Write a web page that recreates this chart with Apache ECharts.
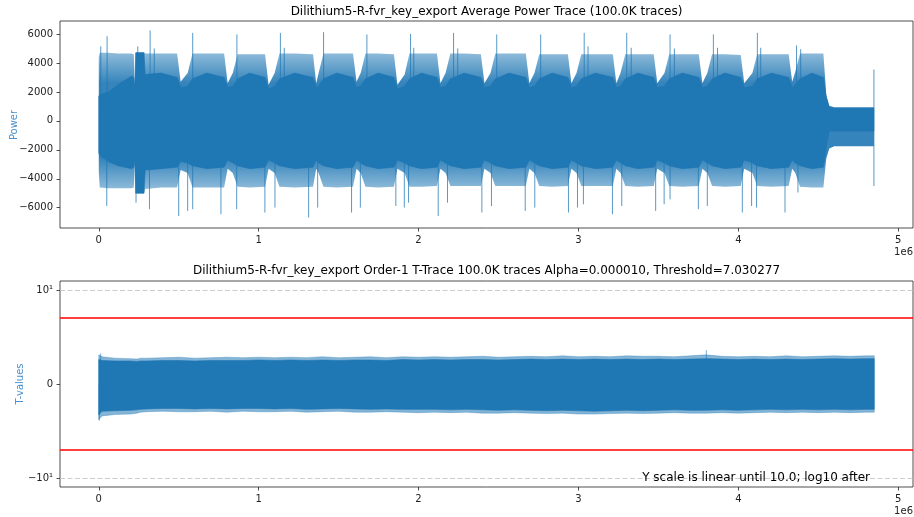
<!DOCTYPE html>
<html>
<head>
<meta charset="utf-8">
<script src="https://cdn.jsdelivr.net/npm/echarts@6/dist/echarts.min.js"></script>
<style>
html,body{margin:0;padding:0;background:#fff;}
#chart{width:914px;height:517px;}
</style>
</head>
<body>
<div id="chart"></div>
<script>
// ---------- DATA (x in units of 1e6 samples) ----------
const xTicks = [0, 1, 2, 3, 4, 5];
const powerTicks = [-6000, -4000, -2000, 0, 2000, 4000, 6000];
const tTicks = [-10, 0, 10];
const threshold = 7.030277;
const linThresh = 10;

// Average power trace envelope
const traceX = [0.000,0.006,0.060,0.120,0.205,0.219,0.225,
  0.231,0.283,0.290,0.390,0.490,0.512,
  0.556,0.586,0.675,0.784,0.806,
  0.838,0.868,0.944,1.040,1.062,
  1.100,1.130,1.225,1.340,1.360,
  1.375,1.405,1.488,1.590,1.612,
  1.638,1.668,1.747,1.846,1.868,
  1.913,1.943,2.019,2.115,2.137,
  2.169,2.199,2.285,2.390,2.412,
  2.450,2.480,2.566,2.671,2.693,
  2.725,2.755,2.835,2.934,2.956,
  2.988,3.018,3.106,3.215,3.237,
  3.263,3.293,3.372,3.471,3.493,
  3.538,3.568,3.650,3.753,3.775,
  3.806,3.836,3.916,4.015,4.037,
  4.088,4.118,4.206,4.315,4.337,
  4.356,4.386,4.460,4.532,
  4.550,4.569,4.600,4.848];
const outerHi = [4400,4700,4700,4650,4650,4600,2400,
  4750,4750,4650,4650,4650,2700,
  3300,4650,4650,4650,2600,
  3300,4600,4600,4600,2500,
  3300,4650,4650,4600,2600,
  3300,4650,4650,4650,2700,
  3300,4650,4650,4600,2500,
  3200,4650,4650,4650,2600,
  3300,4650,4650,4600,2600,
  3300,4650,4650,4650,2600,
  3300,4600,4600,4600,2600,
  3300,4600,4600,4600,2600,
  3300,4600,4600,4600,2600,
  3300,4600,4600,4600,2600,
  3300,4600,4600,4550,2600,
  3300,4600,4600,4600,2700,
  3400,4650,4650,4650,
  1800,1050,950,950];
const coreHi = [1700,1800,2000,2500,3100,3000,2000,
  4700,4700,3200,3300,3000,2300,
  2400,2900,3300,3000,2300,
  2400,2900,3300,3000,2200,
  2400,2900,3300,3000,2300,
  2400,2900,3300,3000,2300,
  2400,2900,3300,3000,2200,
  2400,2900,3300,3000,2300,
  2400,2900,3300,3000,2300,
  2400,2900,3300,3000,2300,
  2400,2900,3300,3000,2300,
  2400,2900,3300,3000,2300,
  2400,2900,3300,3000,2300,
  2400,2900,3300,3000,2300,
  2400,2900,3300,3000,2300,
  2400,2900,3300,3000,2300,
  2500,2900,3300,3000,
  1600,900,860,860];
const coreLo = [-2200,-2400,-2800,-3100,-3300,-3200,-2400,
  -5000,-5000,-3400,-3300,-3200,-2800,
  -2900,-3100,-3300,-3200,-2700,
  -2900,-3100,-3300,-3200,-2700,
  -2900,-3100,-3300,-3200,-2700,
  -2900,-3100,-3300,-3200,-2700,
  -2900,-3100,-3300,-3200,-2700,
  -2900,-3100,-3300,-3200,-2700,
  -2900,-3100,-3300,-3200,-2700,
  -2900,-3100,-3300,-3200,-2700,
  -2900,-3100,-3300,-3200,-2700,
  -2900,-3100,-3300,-3200,-2700,
  -2900,-3100,-3300,-3200,-2700,
  -2900,-3100,-3300,-3200,-2700,
  -2900,-3100,-3300,-3200,-2700,
  -2900,-3100,-3300,-3200,-2700,
  -2900,-3100,-3300,-3200,
  -1800,-700,-700,-700];
const outerLo = [-3500,-4600,-4650,-4650,-4650,-4600,-3000,
  -5000,-5000,-4700,-4600,-4600,-3400,
  -3600,-4600,-4600,-4600,-3300,
  -3600,-4550,-4600,-4550,-3300,
  -3600,-4550,-4600,-4550,-3300,
  -3600,-4550,-4600,-4550,-3300,
  -3600,-4550,-4600,-4550,-3300,
  -3600,-4550,-4550,-4500,-3300,
  -3600,-4500,-4500,-4500,-3300,
  -3600,-4500,-4500,-4500,-3300,
  -3600,-4500,-4550,-4500,-3300,
  -3600,-4500,-4500,-4500,-3300,
  -3600,-4500,-4550,-4500,-3300,
  -3600,-4500,-4550,-4500,-3300,
  -3600,-4500,-4550,-4500,-3300,
  -3600,-4500,-4550,-4500,-3300,
  -3600,-4550,-4600,-4600,
  -2600,-1900,-1750,-1750];

// Tall isolated spikes of the power trace
const spikeX = [0.0125,0.052,0.244,0.321,0.347,0.5875,0.864,1.136,1.16,1.406,1.677,1.95,1.97,2.219,2.245,2.489,2.764,3.036,3.06,3.302,3.33,3.573,3.60,3.844,3.87,4.119,4.14,4.364,4.39,4.848,
  0.05,0.233,0.317,0.5,0.556,0.5875,0.764,0.8625,1.039,1.102,1.3125,1.369,1.581,1.636,1.858,1.911,1.9375,2.123,2.181,2.396,2.456,2.667,2.727,2.9375,2.994,3.031,3.2125,3.271,3.483,3.536,3.573,3.75,3.806,4.025,4.083,4.114,4.292,4.373,4.848];
const spikeY = [5150,5850,5150,6250,5000,6080,5970,6080,5050,6130,5970,6000,5050,6080,5000,5970,5970,6080,5150,6080,5050,5970,5000,5970,5050,6080,5050,5210,4950,3550,
  -5880,-5650,-6100,-6570,-6220,-6100,-6450,-6100,-6330,-5990,-6680,-5990,-6330,-5990,-5880,-5990,-5650,-6570,-5650,-6330,-5880,-6220,-5990,-6330,-5990,-5760,-6450,-5880,-6220,-5760,-5420,-6100,-5880,-6330,-5880,-5990,-6330,-4950,-4500];

// T-trace envelope
const tX = [0.00,0.02,0.10,0.20,0.24,0.26,0.30,0.40,0.50,0.60,0.70,0.80,0.90,1.00,1.10,1.20,1.30,1.40,1.50,1.60,1.70,1.80,1.90,2.00,2.10,2.20,2.30,2.40,2.50,2.60,2.70,2.80,2.90,3.00,3.10,3.20,3.30,3.40,3.50,3.60,3.70,3.80,3.90,4.00,4.10,4.20,4.30,4.40,4.50,4.60,4.70,4.80,4.85];
const tCoreHi = [2.6,2.5,2.45,2.45,2.4,2.45,2.45,2.5,2.5,2.45,2.5,2.5,2.5,2.55,2.5,2.55,2.5,2.55,2.5,2.55,2.55,2.5,2.6,2.55,2.6,2.55,2.6,2.6,2.55,2.6,2.65,2.6,2.65,2.6,2.65,2.6,2.65,2.6,2.65,2.6,2.65,2.7,2.65,2.6,2.65,2.6,2.65,2.6,2.65,2.7,2.65,2.7,2.7];
const tEdgeHi = [3.1,2.9,2.75,2.7,2.65,2.75,2.75,2.8,2.85,2.75,2.8,2.85,2.8,2.85,2.8,2.85,2.8,2.9,2.8,2.85,2.9,2.8,2.9,2.85,2.9,2.85,2.9,2.95,2.85,2.9,2.95,2.9,3.0,2.9,2.95,2.9,3.0,2.95,2.95,2.9,3.0,3.1,2.95,2.9,2.95,2.9,3.0,2.9,2.95,3.0,2.95,3.0,3.0];
const tCoreLo = [-3.3,-2.9,-2.85,-2.8,-2.75,-2.7,-2.65,-2.6,-2.6,-2.65,-2.6,-2.65,-2.6,-2.6,-2.65,-2.6,-2.7,-2.65,-2.6,-2.65,-2.7,-2.65,-2.7,-2.7,-2.7,-2.75,-2.7,-2.75,-2.8,-2.75,-2.8,-2.85,-2.8,-2.85,-2.9,-2.85,-2.8,-2.85,-2.8,-2.75,-2.8,-2.8,-2.75,-2.8,-2.75,-2.7,-2.75,-2.7,-2.75,-2.7,-2.75,-2.7,-2.7];
const tEdgeLo = [-3.8,-3.4,-3.25,-3.2,-3.1,-3.0,-2.95,-2.9,-2.95,-2.95,-2.9,-3.0,-2.9,-2.95,-2.95,-2.9,-3.0,-2.95,-2.9,-3.0,-3.0,-2.95,-3.0,-3.05,-3.0,-3.05,-3.0,-3.1,-3.1,-3.05,-3.1,-3.15,-3.1,-3.2,-3.2,-3.15,-3.1,-3.15,-3.1,-3.05,-3.1,-3.1,-3.05,-3.1,-3.05,-3.0,-3.05,-3.0,-3.05,-3.0,-3.05,-3.0,-3.0];
const tSpikeX = [0.003, 0.012, 3.80];
const tSpikeY = [-3.9, 3.25, 3.6];

// ---------- CHART ----------
const BLUE = '#1f77b4';
const FONT = 'DejaVu Sans';
const chart = echarts.init(document.getElementById('chart'), null, {renderer: 'canvas'});

function bandSeries(xs, hi, lo, fill, xi, yi, z, grad) {
  return {
    type: 'custom', xAxisIndex: xi, yAxisIndex: yi, z: z, silent: true,
    data: xs.map((x, i) => [x, hi[i], lo[i]]),
    encode: {x: 0, y: [1, 2]},
    renderItem: function (params, api) {
      if (params.dataIndex !== 0) return null;
      const pts = [];
      for (let i = 0; i < xs.length; i++) pts.push(api.coord([xs[i], hi[i]]));
      for (let i = xs.length - 1; i >= 0; i--) pts.push(api.coord([xs[i], lo[i]]));
      let f = fill;
      if (grad) {
        const yTop = api.coord([0, grad[0]])[1], yBot = api.coord([0, -grad[0]])[1];
        const yIn = api.coord([0, grad[1]])[1], yInB = api.coord([0, -grad[1]])[1];
        const h = yBot - yTop;
        f = new echarts.graphic.LinearGradient(0, yTop, 0, yBot, [
          {offset: 0, color: grad[2]},
          {offset: (yIn - yTop) / h, color: grad[3]},
          {offset: (yInB - yTop) / h, color: grad[3]},
          {offset: 1, color: grad[2]}
        ], true);
      }
      return {type: 'polygon', shape: {points: pts}, style: {fill: f, stroke: grad ? null : fill, lineWidth: 0.6}};
    }
  };
}
function spikeSeries(xs, ys, color, xi, yi, z) {
  return {
    type: 'custom', xAxisIndex: xi, yAxisIndex: yi, z: z, silent: true,
    data: xs.map((x, i) => [x, ys[i]]),
    encode: {x: 0, y: 1},
    renderItem: function (params, api) {
      const a = api.coord([api.value(0), 0]);
      const b = api.coord([api.value(0), api.value(1)]);
      return {type: 'line', shape: {x1: a[0], y1: a[1], x2: b[0], y2: b[1]}, style: {stroke: color, lineWidth: 1}};
    }
  };
}
const minus = s => String(s).replace('-', '\u2212');
function xAxisDef(gi) {
  return {
    type: 'value', gridIndex: gi, min: -0.2425, max: 5.0925,
    splitLine: {show: false}, axisLine: {show: false, onZero: false},
    axisTick: {show: true, length: 3.5, customValues: xTicks, lineStyle: {color: '#222', width: 0.8}},
    axisLabel: {customValues: xTicks, margin: 7, fontFamily: FONT, fontSize: 10, color: '#222', formatter: v => minus(v)}
  };
}

const option = {
  animation: false,
  backgroundColor: '#fff',
  grid: [
    {left: 60, right: 1, top: 21, height: 207, show: true, borderColor: '#222', borderWidth: 0.8, backgroundColor: 'transparent', containLabel: false, outerBoundsMode: 'none'},
    {left: 60, right: 1, top: 281, height: 206, show: true, borderColor: '#222', borderWidth: 0.8, backgroundColor: 'transparent', containLabel: false, outerBoundsMode: 'none'}
  ],
  xAxis: [xAxisDef(0), xAxisDef(1)],
  yAxis: [
    {
      type: 'value', gridIndex: 0, min: -7400, max: 6900,
      splitLine: {show: false}, axisLine: {show: false, onZero: false},
      axisTick: {show: true, length: 3.5, customValues: powerTicks, lineStyle: {color: '#222', width: 0.8}},
      axisLabel: {customValues: powerTicks, margin: 7, fontFamily: FONT, fontSize: 10, color: '#222', formatter: v => minus(v)}
    },
    {
      type: 'value', gridIndex: 1, min: -10.96, max: 10.96,
      splitLine: {show: false}, axisLine: {show: false, onZero: false},
      axisTick: {show: true, length: 3.5, customValues: tTicks, lineStyle: {color: '#222', width: 0.8}},
      axisLabel: {customValues: tTicks, margin: 7, fontFamily: FONT, fontSize: 10, color: '#222',
        formatter: v => v === 0 ? '0' : (v > 0 ? '10\u00B9' : '\u221210\u00B9')}
    }
  ],
  series: [
    bandSeries(traceX, outerHi, outerLo, 'rgba(31,119,180,0.68)', 0, 0, 2, [4700, 2600, 'rgba(31,119,180,0.5)', 'rgba(31,119,180,0.9)']),
    spikeSeries(spikeX, spikeY, 'rgba(31,119,180,0.75)', 0, 0, 3),
    bandSeries(traceX, coreHi, coreLo, BLUE, 0, 0, 4),
    Object.assign(bandSeries(tX, tEdgeHi, tEdgeLo, 'rgba(31,119,180,0.55)', 1, 1, 2), {
      markLine: {
        silent: true, symbol: 'none', animation: false, label: {show: false},
        data: [
          {yAxis: linThresh, lineStyle: {color: '#cccccc', type: [5, 2.5], width: 1.2}},
          {yAxis: -linThresh, lineStyle: {color: '#cccccc', type: [5, 2.5], width: 1.2}},
          {yAxis: threshold, lineStyle: {color: '#ff0000', type: 'solid', width: 1.5}},
          {yAxis: -threshold, lineStyle: {color: '#ff0000', type: 'solid', width: 1.5}}
        ]
      }
    }),
    spikeSeries(tSpikeX, tSpikeY, 'rgba(31,119,180,0.6)', 1, 1, 3),
    bandSeries(tX, tCoreHi, tCoreLo, BLUE, 1, 1, 4)
  ],
  graphic: [
    {type: 'text', x: 486.5, y: 12, style: {text: 'Dilithium5-R-fvr_key_export Average Power Trace (100.0K traces)', fontFamily: FONT, fontSize: 12, fill: '#000', align: 'center', verticalAlign: 'middle'}},
    {type: 'text', x: 486.5, y: 271, style: {text: 'Dilithium5-R-fvr_key_export Order-1 T-Trace 100.0K traces Alpha=0.000010, Threshold=7.030277', fontFamily: FONT, fontSize: 12, fill: '#000', align: 'center', verticalAlign: 'middle'}},
    {type: 'text', x: 14, y: 125, rotation: Math.PI / 2, style: {text: 'Power', fontFamily: FONT, fontSize: 10, fill: '#4a90cc', align: 'center', verticalAlign: 'middle'}},
    {type: 'text', x: 20, y: 384, rotation: Math.PI / 2, style: {text: 'T-values', fontFamily: FONT, fontSize: 10, fill: '#4a90cc', align: 'center', verticalAlign: 'middle'}},
    {type: 'text', x: 913, y: 252, style: {text: '1e6', fontFamily: FONT, fontSize: 10, fill: '#222', align: 'right', verticalAlign: 'middle'}},
    {type: 'text', x: 913, y: 511, style: {text: '1e6', fontFamily: FONT, fontSize: 10, fill: '#222', align: 'right', verticalAlign: 'middle'}},
    {type: 'text', x: 870, y: 478, z: 10, style: {text: 'Y scale is linear until 10.0; log10 after', fontFamily: FONT, fontSize: 12, fill: '#000', align: 'right', verticalAlign: 'middle'}}
  ]
};
chart.setOption(option);
</script>
</body>
</html>
